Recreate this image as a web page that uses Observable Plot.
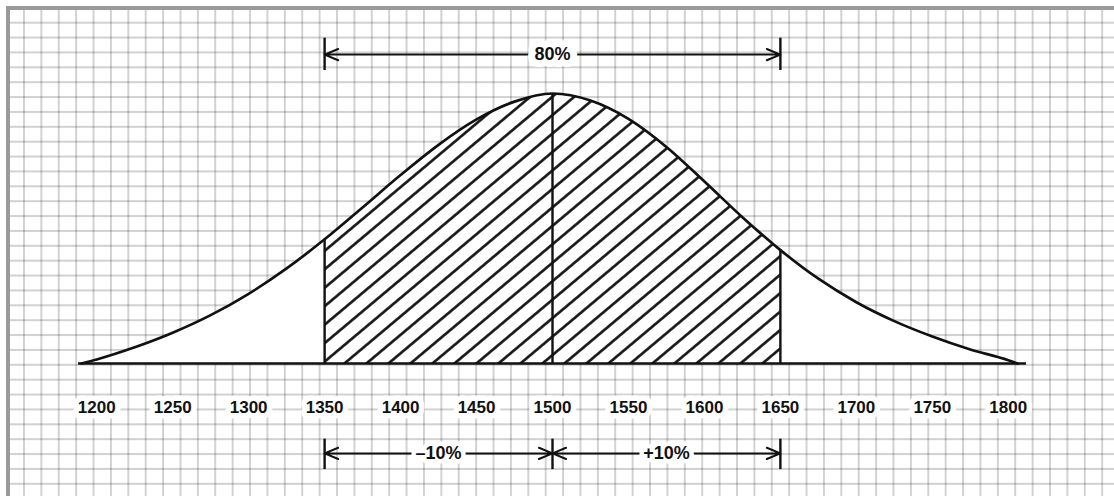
<!DOCTYPE html>
<html><head><meta charset="utf-8">
<script src="https://cdn.jsdelivr.net/npm/d3@7"></script>
<script src="https://cdn.jsdelivr.net/npm/@observablehq/plot@0.6"></script>
<style>
html,body{margin:0;padding:0;background:#fff;}
#wrap{position:relative;width:1114px;height:496px;overflow:hidden;background:#fff;}
#paper{position:absolute;left:6px;top:6px;right:0;bottom:0;border-left:4px solid #9a9a9a;border-top:4px solid #9a9a9a;
background-image:linear-gradient(to right, rgba(0,0,0,0.18) 0, rgba(0,0,0,0.18) 2px, transparent 2px),
linear-gradient(to bottom, rgba(0,0,0,0.18) 0, rgba(0,0,0,0.18) 2px, transparent 2px);
background-size:17.4px 14.88px;background-position:13px 11.7px;}
#chart{position:absolute;left:0;top:0;}
</style></head>
<body><div id="wrap"><div id="paper"></div><div id="chart"></div></div>
<script>
// Curve sample positions and heights (percent of peak)
const xs      = [1190, 1200, 1225, 1250, 1275, 1300, 1325, 1350, 1375, 1400, 1425, 1450, 1475, 1500, 1525, 1550, 1575, 1600, 1625, 1650, 1675, 1700, 1725, 1750, 1775, 1800, 1806];
const heights = [0,    1.5,  6.0,  11.4, 17.9, 25.8, 35.2, 46,   57.8, 69.8, 81,   90.4, 97,   100,  97.4, 90.6, 80.2, 67.4, 54.2, 42,   31.4, 22.7, 15.7, 10.0, 5.2,  1.2,  0];
const tickValues = [1200, 1250, 1300, 1350, 1400, 1450, 1500, 1550, 1600, 1650, 1700, 1750, 1800];
const boundaries = [1350, 1500, 1650];
const spanLabel = "80%";
const sideLabels = ["–10%", "+10%"];
const axisRange = [1188, 1812];

// layout constants (in y units; baseline = 0, peak = 100)
const yTopLine = 114.4, yTopBar = [108.5, 120.5];
const yBotLine = -33.3, yBotBar = [-28, -39.3];

const curve = xs.map((x, i) => ({x, h: heights[i]}));
const [lo, mid, hi] = boundaries;
const hatched = curve.filter(d => d.x >= lo && d.x <= hi);
const bounds = boundaries.map(x => ({x, h: curve.find(d => d.x === x).h}));
const topArrows = [{x1: mid, x2: lo}, {x1: mid, x2: hi}];
const botMids = [(lo + mid) / 2, (mid + hi) / 2];
const botArrows = [
  {x1: botMids[0], x2: lo}, {x1: botMids[0], x2: mid},
  {x1: botMids[1], x2: mid}, {x1: botMids[1], x2: hi}
];
const botText = botMids.map((x, i) => ({x, label: sideLabels[i]}));

const ANG = 40;
const S = 22 * Math.sin(ANG * Math.PI / 180);
function hatchDefs() {
  const defs = d3.create("svg:defs");
  const p = defs.append("pattern").attr("id", "hatch").attr("patternUnits", "userSpaceOnUse")
    .attr("width", 20).attr("height", S)
    .attr("patternTransform", `translate(543,363) rotate(${-ANG}) translate(0,${-S/2})`);
  p.append("rect").attr("width", 20).attr("height", S).attr("fill", "white");
  p.append("line").attr("x1", -1).attr("x2", 21).attr("y1", S/2).attr("y2", S/2)
    .attr("stroke", "#111").attr("stroke-width", 2.6);
  return defs.node();
}

const fam = "'Liberation Sans', Arial, Helvetica, sans-serif";
const font = {fontFamily: fam, fontWeight: "bold", fontSize: 17};

const chart = Plot.plot({
  width: 1114, height: 496,
  marginLeft: 78, marginRight: 88, marginTop: 93, marginBottom: 133,
  style: {background: "transparent", fontFamily: fam},
  x: {domain: axisRange},
  y: {domain: [0, 100], axis: null},
  marks: [
    hatchDefs,
    Plot.areaY(curve, {x: "x", y: "h", fill: "white", curve: "monotone-x"}),
    Plot.areaY(hatched, {x: "x", y: "h", fill: "url(#hatch)", curve: "monotone-x"}),
    Plot.ruleY([0], {x1: axisRange[0], x2: axisRange[1], stroke: "#111", strokeWidth: 2.6}),
    Plot.ruleX(bounds, {x: "x", y1: 0, y2: "h", stroke: "#111", strokeWidth: 2.4}),
    Plot.lineY(curve, {x: "x", y: "h", stroke: "#111", strokeWidth: 2.7, curve: "monotone-x"}),
    Plot.axisX({ticks: tickValues, tickSize: 0, tickPadding: 37, tickFormat: d => String(d),
      fill: "#111", textStroke: "white", textStrokeWidth: 11, ...font}),
    // top 80% span
    Plot.ruleX([lo, hi], {y1: yTopBar[0], y2: yTopBar[1], stroke: "#111", strokeWidth: 2.4}),
    Plot.arrow(topArrows, {x1: "x1", x2: "x2", y1: yTopLine, y2: yTopLine, stroke: "#111", strokeWidth: 2, headLength: 11, headAngle: 45}),
    Plot.text([{x: mid, label: spanLabel}], {x: "x", y: yTopLine, text: "label", fill: "#111",
      stroke: "white", strokeWidth: 14, paintOrder: "stroke", ...font, fontSize: 18}),
    // bottom ±10% spans
    Plot.ruleX(boundaries, {y1: yBotBar[0], y2: yBotBar[1], stroke: "#111", strokeWidth: 2.4}),
    Plot.arrow(botArrows, {x1: "x1", x2: "x2", y1: yBotLine, y2: yBotLine, stroke: "#111", strokeWidth: 2, headLength: 11, headAngle: 45}),
    Plot.text(botText, {x: "x", y: yBotLine, text: "label", fill: "#111",
      stroke: "white", strokeWidth: 9, paintOrder: "stroke", ...font, fontSize: 18})
  ]
});
document.getElementById("chart").appendChild(chart);
</script>
</body></html>
